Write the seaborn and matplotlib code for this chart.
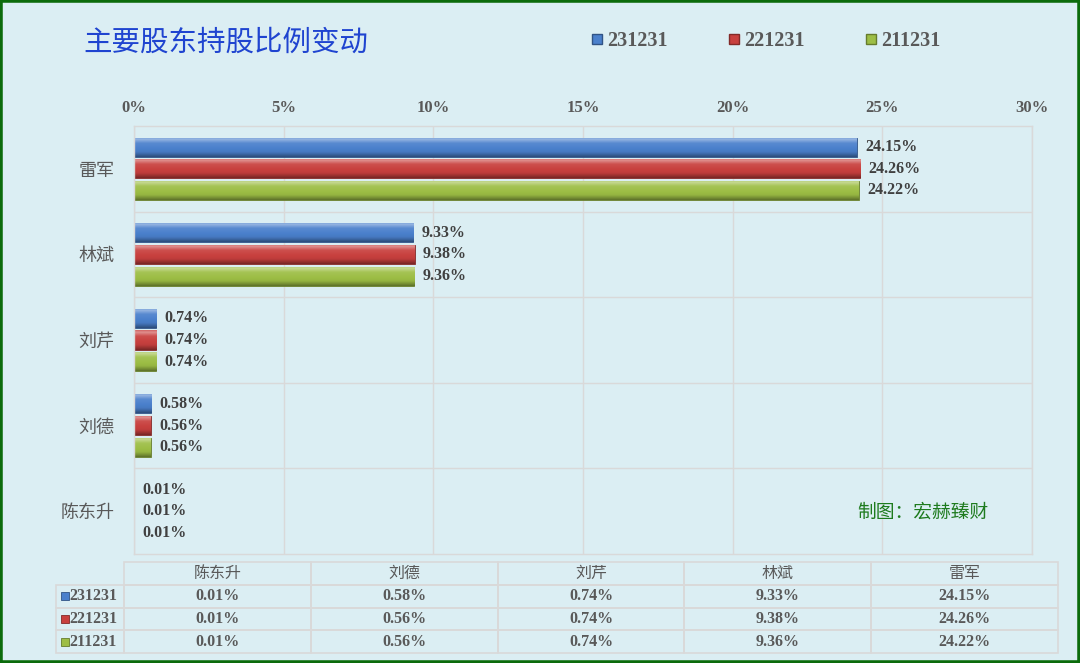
import numpy as np
import pandas as pd
import matplotlib
matplotlib.use('Agg')
import matplotlib.pyplot as plt
from matplotlib.lines import Line2D
from matplotlib.patches import Rectangle
from matplotlib.colors import to_rgb
from matplotlib.font_manager import FontProperties
import seaborn as sns

# ---------------- data ----------------
holders = ['陈东升', '刘德', '刘芹', '林斌', '雷军']
periods = ['231231', '221231', '211231']
v231231 = [0.01, 0.58, 0.74, 9.33, 24.15]
v221231 = [0.01, 0.56, 0.74, 9.38, 24.26]
v211231 = [0.01, 0.56, 0.74, 9.36, 24.22]
xticks = [0, 5, 10, 15, 20, 25, 30]
title = '主要股东持股比例变动'
credit = '制图：宏赫臻财'

series = {'231231': v231231, '221231': v221231, '211231': v211231}
colors = {'231231': '#4A80CC', '221231': '#C8403E', '211231': '#9DBE45'}

rows = []
for p in periods:
    for h, v in zip(holders, series[p]):
        rows.append({'股东': h, '期间': p, '比例': v})
df = pd.DataFrame(rows)
chart_order = holders[::-1]

BG = '#DBEEF3'
GRID = '#D9D9D9'
TXT = '#595959'
sns.set_theme(style='white')
plt.rcParams['font.family'] = ['Noto Sans CJK SC', 'DejaVu Sans']

serif_b = lambda s: FontProperties(family='Liberation Serif', weight='bold', size=s)

fig = plt.figure(figsize=(10.8, 6.63), dpi=100, facecolor=BG)
ax = fig.add_axes([134/1080, 1-554/663, (1032-134)/1080, (554-126)/663])
ax.set_facecolor(BG)

sns.barplot(data=df, y='股东', x='比例', hue='期间', order=chart_order,
            hue_order=periods, palette=colors, orient='h', width=0.76,
            gap=0.12, ax=ax, legend=False, errorbar=None, saturation=1)


def shade(c, f):
    c = np.array(to_rgb(c))
    return c + (1 - c) * f if f > 0 else c * (1 + f)


stops_t = [0.0, 0.1, 0.3, 0.75, 0.9, 1.0]
stops_f = [0.2, 0.42, 0.08, -0.05, -0.25, -0.4]
tt = np.linspace(0, 1, 40)
ff = np.interp(tt, stops_t, stops_f)

for cont, p in zip(ax.containers, periods):
    grad = np.array([shade(colors[p], f) for f in ff]).reshape(-1, 1, 3)
    for patch in cont:
        x0, w = patch.get_x(), patch.get_width()
        y0, h = patch.get_y(), patch.get_height()
        patch.set_edgecolor(shade(colors[p], -0.35))
        patch.set_linewidth(0.6)
        im = ax.imshow(grad, extent=[x0, x0 + w, y0 + h, y0], aspect='auto',
                       origin='upper', interpolation='bilinear',
                       zorder=patch.get_zorder() + 0.1)
        im.set_clip_path(patch)
    ax.bar_label(cont, labels=[f'{v:.2f}%' for v in cont.datavalues],
                 padding=6, fontproperties=serif_b(11.5), color='#404040')

ax.set_xlim(0, 30)
ax.set_ylim(4.5, -0.5)
ax.set_xlabel('')
ax.set_ylabel('')
ax.xaxis.tick_top()
ax.set_xticks(xticks)
ax.set_xticklabels([f'{t}%' for t in xticks])
for lab in ax.get_xticklabels():
    lab.set_fontproperties(serif_b(12))
    lab.set_color(TXT)
ax.tick_params(axis='x', length=0, pad=7)
ax.tick_params(axis='y', length=0, pad=14, labelsize=13, labelcolor=TXT)
ax.set_yticks([0.5, 1.5, 2.5, 3.5], minor=True)
ax.tick_params(which='minor', length=0)
ax.grid(axis='x', color=GRID, lw=1)
ax.grid(axis='y', which='minor', color=GRID, lw=1)
ax.grid(axis='y', which='major', visible=False)
ax.set_axisbelow(True)
for s in ax.spines.values():
    s.set_color(GRID)
    s.set_linewidth(1)

# title, legend, credit
fig.text(83/1080, 1-43/663, title, fontsize=20.5, color='#1F44D0',
         va='center', ha='left')
handles = [Line2D([], [], marker='s', linestyle='none', markersize=7.5,
                  markerfacecolor=colors[p], markeredgecolor=shade(colors[p], -0.35),
                  label=p) for p in periods]
fig.legend(handles=handles, loc='center', bbox_to_anchor=(766/1080, 1-41/663),
           ncol=3, frameon=False, prop=serif_b(14.5), labelcolor=TXT,
           handlelength=0.6, handletextpad=0.2, columnspacing=3.0)
fig.text(857/1080, 1-512/663, credit, color='#1E7B1E', fontsize=13.5,
         va='center', ha='left')

# data table
tax = fig.add_axes([56/1080, 1-653/663, (1058-56)/1080, (653-562)/663])
tax.axis('off')
cell_text = [[''] + holders] + [[p] + [f'{v:.2f}%' for v in series[p]] for p in periods]
colW = [68/1002] + [186.8/1002] * 5
tbl = tax.table(cellText=cell_text, colWidths=colW, bbox=[0, 0, 1, 1], cellLoc='center')
tbl.auto_set_font_size(False)
for (r, c), cell in tbl.get_celld().items():
    cell.set_edgecolor(GRID)
    cell.set_facecolor('none')
    cell.set_linewidth(1.2)
    txt = cell.get_text()
    txt.set_color(TXT)
    if r == 0:
        txt.set_fontsize(11.5)
    else:
        txt.set_fontproperties(serif_b(11.5))
    if r == 0 and c == 0:
        cell.visible_edges = ''
    if c == 0 and r > 0:
        cell._loc = 'right'
        txt.set_horizontalalignment('right')
for i, p in enumerate(periods):
    tax.plot([(64.5-56)/1002], [1 - (i + 1.5)/4], marker='s', ms=5.5,
             color=colors[p], mec=shade(colors[p], -0.35), mew=0.6,
             transform=tax.transAxes, clip_on=False)

fig.patches.append(Rectangle((0, 0), 1, 1, transform=fig.transFigure, fill=False,
                             edgecolor='#0B6B0B', lw=4, zorder=10))

fig.savefig('out.png', dpi=100, facecolor=BG)
